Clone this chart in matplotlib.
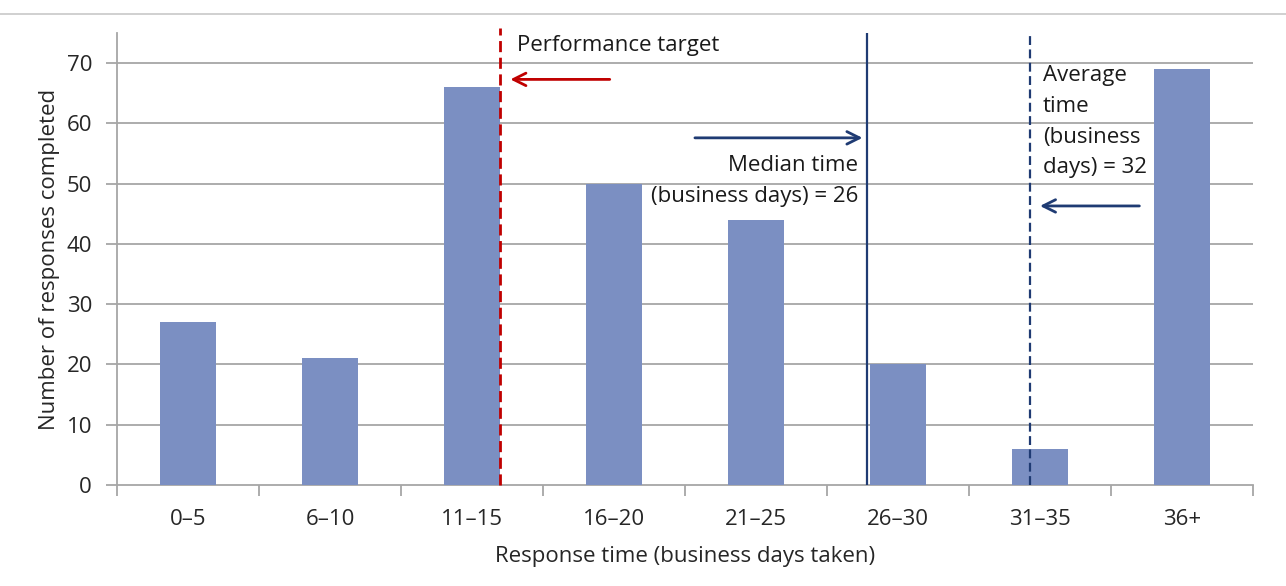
import matplotlib.pyplot as plt
from matplotlib.lines import Line2D

# ---------------- data ----------------
categories = ["0\u20135", "6\u201310", "11\u201315", "16\u201320", "21\u201325", "26\u201330", "31\u201335", "36+"]
responses = [27, 21, 66, 50, 44, 20, 6, 69]
y_ticks = [0, 10, 20, 30, 40, 50, 60, 70]

# reference lines, in category-axis units (bar centres at 0..7)
target_x = 2.2
median_x = 4.78
average_x = 5.93

BAR_COLOR = "#7B8FC2"
GRID_COLOR = "#A6A6A6"
NAVY = "#1F3B73"
RED = "#C00000"
FONT = ["Open Sans", "DejaVu Sans"]
FS = 16

plt.rcParams["font.family"] = FONT

fig = plt.figure(figsize=(12.86, 5.86), dpi=100)
ax = fig.add_axes([0.091, 0.1724, 0.8833, 0.7713])

x = list(range(len(categories)))
ax.bar(x, responses, width=0.4, color=BAR_COLOR, zorder=3)

ax.set_xlim(-0.5, len(categories) - 0.5)
ax.set_ylim(0, 75)
ax.set_yticks(y_ticks)
ax.set_yticklabels([str(v) for v in y_ticks], fontsize=FS, color="#262626")
for v in y_ticks[1:]:
    ax.axhline(v, color=GRID_COLOR, lw=1.3, zorder=1)

# category boundaries as ticks, labels at centres
ax.set_xticks([i - 0.5 for i in range(len(categories) + 1)])
ax.set_xticklabels([])
ax.set_xticks(x, minor=True)
ax.set_xticklabels(categories, minor=True, fontsize=FS, color="#262626")
ax.tick_params(axis="x", which="minor", length=0, pad=17)
ax.tick_params(axis="x", which="major", length=8, width=1.3, color=GRID_COLOR)
ax.tick_params(axis="y", length=8, width=1.3, color=GRID_COLOR, pad=10)

for s in ["top", "right"]:
    ax.spines[s].set_visible(False)
for s in ["left", "bottom"]:
    ax.spines[s].set_color(GRID_COLOR)
    ax.spines[s].set_linewidth(1.3)

ax.set_xlabel("Response time (business days taken)", fontsize=FS, color="#262626", labelpad=12)
ax.set_ylabel("Number of responses completed", fontsize=FS, color="#262626", labelpad=5)

# vertical marker lines
ax.axvline(target_x, ymin=0, ymax=1.01, color=RED, lw=2, ls=(0, (4, 2)), zorder=4, clip_on=False)
ax.axvline(median_x, color=NAVY, lw=1.6, zorder=4)
ax.axvline(average_x, color=NAVY, lw=1.6, ls=(0, (4, 2)), zorder=4)

arrow = dict(arrowstyle="->,head_length=0.9,head_width=0.45", lw=2, shrinkA=0, shrinkB=0)

# performance target
ax.text(2.32, 72.9, "Performance target", fontsize=FS, va="center", ha="left", color="#1a1a1a")
ax.annotate("", xy=(2.27, 67.3), xytext=(2.97, 67.3), arrowprops=dict(arrow, color=RED))

# median
ax.annotate("", xy=(4.75, 57.6), xytext=(3.57, 57.6), arrowprops=dict(arrow, color=NAVY))
ax.text(4.72, 50.4, "Median time\n(business days) = 26", fontsize=FS, ha="right", va="center",
        multialignment="right", linespacing=1.62, color="#1a1a1a")

# average
ax.text(6.02, 60.3, "Average\ntime\n(business\ndays) = 32", fontsize=FS, ha="left", va="center",
        linespacing=1.62, color="#1a1a1a")
ax.annotate("", xy=(6.0, 46.3), xytext=(6.70, 46.3), arrowprops=dict(arrow, color=NAVY))

# thin rule across the top of the figure
fig.add_artist(Line2D([0, 1], [1 - 14 / 586] * 2, transform=fig.transFigure, color="#C8C8C8", lw=1.2))

fig.savefig("out.png", dpi=100)
